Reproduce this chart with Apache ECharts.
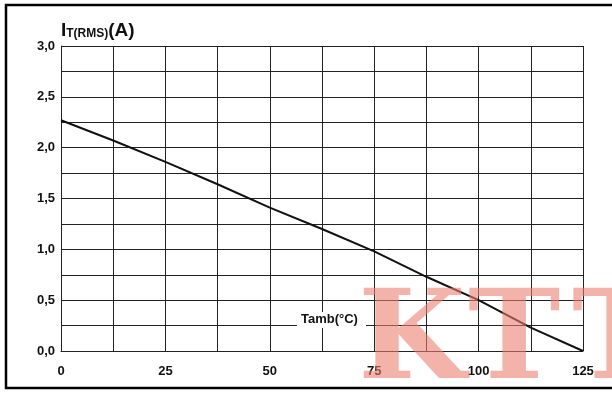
<!DOCTYPE html>
<html>
<head>
<meta charset="utf-8">
<script src="https://cdn.jsdelivr.net/npm/echarts@6/dist/echarts.min.js"></script>
<style>
html,body{margin:0;padding:0;background:#fff;}
#c{width:612px;height:394px;}
</style>
</head>
<body>
<div id="c"></div>
<script>
// Data
const tempC = [0, 12.5, 25, 37.5, 50, 62.5, 75, 87.5, 100, 112.5, 125];
const currentA = [2.27, 2.07, 1.86, 1.64, 1.41, 1.20, 0.98, 0.73, 0.50, 0.23, 0.0];
const xTickLabels = ['0', '25', '50', '75', '100', '125'];
const yTickLabels = ['0,0', '0,5', '1,0', '1,5', '2,0', '2,5', '3,0'];

const FONT = '"Liberation Sans", Arial, Helvetica, sans-serif';
const chart = echarts.init(document.getElementById('c'), null, {renderer: 'canvas'});

const wmStyle = {
  fontFamily: '"DejaVu Serif", serif', fontWeight: 'bold', fontSize: 124,
  fill: 'rgba(235,125,110,0.59)', verticalAlign: 'middle', align: 'left'
};

const option = {
  animation: false,
  backgroundColor: '#fff',
  grid: {left: 61, top: 46, right: 29, bottom: 43, containLabel: false},
  xAxis: {
    type: 'value', min: 0, max: 125, interval: 12.5,
    axisLine: {show: true, lineStyle: {color: '#222', width: 1}},
    axisTick: {show: false},
    splitLine: {show: true, lineStyle: {color: '#222', width: 1}},
    axisLabel: {
      margin: 14, color: '#111', fontFamily: FONT, fontWeight: 'bold', fontSize: 13,
      formatter: v => (v % 25 === 0 ? xTickLabels[v / 25] : '')
    }
  },
  yAxis: {
    type: 'value', min: 0, max: 3, interval: 0.25,
    axisLine: {show: true, lineStyle: {color: '#222', width: 1}},
    axisTick: {show: false},
    splitLine: {show: true, lineStyle: {color: '#222', width: 1}},
    axisLabel: {
      margin: 6, color: '#111', fontFamily: FONT, fontWeight: 'bold', fontSize: 13,
      formatter: v => {
        const k = Math.round(v / 0.5);
        return Math.abs(v - k * 0.5) < 1e-6 ? yTickLabels[k] : '';
      }
    }
  },
  series: [{
    type: 'line',
    data: tempC.map((t, i) => [t, currentA[i]]),
    symbol: 'none',
    lineStyle: {color: '#111', width: 2},
    z: 3
  }],
  graphic: [
    {
      type: 'text', left: 61, top: 21, z: 10,
      style: {
        text: '{a|I}{b|T(RMS)}{a|(A)}',
        rich: {
          a: {fontFamily: FONT, fontWeight: 'bold', fontSize: 19, fill: '#111'},
          b: {fontFamily: FONT, fontWeight: 'bold', fontSize: 12, fill: '#111', verticalAlign: 'bottom', padding: [6, 0, 0, 0]}
        }
      }
    },
    {
      type: 'rect', z: 10,
      shape: {x: 297, y: 312, width: 69, height: 16},
      style: {fill: '#fff'}
    },
    {
      type: 'text', z: 11, x: 301, y: 319,
      style: {
        text: 'Tamb(°C)', fontFamily: FONT, fontWeight: 'bold', fontSize: 13,
        fill: '#111', verticalAlign: 'middle', align: 'left'
      }
    },
    {type: 'text', z: 20, x: 358, y: 346, style: Object.assign({text: 'K'}, wmStyle)},
    {type: 'text', z: 20, x: 468, y: 346, style: Object.assign({text: 'T'}, wmStyle)},
    {type: 'text', z: 20, x: 572, y: 346, style: Object.assign({text: 'T'}, wmStyle)},
    {
      type: 'rect', z: 30,
      shape: {x: 6, y: 5, width: 640, height: 383},
      style: {fill: 'none', stroke: '#000', lineWidth: 2.5}
    }
  ]
};
chart.setOption(option);
</script>
</body>
</html>
